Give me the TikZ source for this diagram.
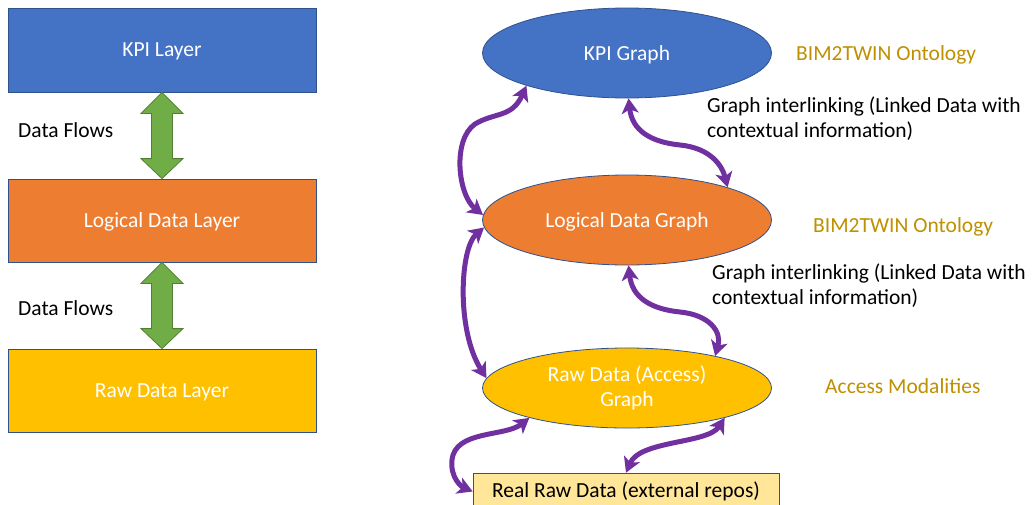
\documentclass[tikz,border=0pt]{standalone}
\usepackage{fontspec}
\setmainfont{Carlito}
\usetikzlibrary{arrows.meta,calc,shapes.geometric}
\definecolor{cblue}{HTML}{4472C4}
\definecolor{corange}{HTML}{ED7D31}
\definecolor{cyellow}{HTML}{FFC000}
\definecolor{cgreen}{HTML}{70AD47}
\definecolor{cgreenb}{HTML}{507E32}
\definecolor{cpurple}{HTML}{7030A0}
\definecolor{cgold}{HTML}{BF9000}
\definecolor{clight}{HTML}{FFE699}
\definecolor{cborder}{HTML}{2F528F}
\begin{document}
\begin{tikzpicture}[x=1pt,y=-1pt,
  every node/.style={font=\fontsize{21.5}{25}\selectfont},
  layerbox/.style={draw=cborder,line width=0.8pt,minimum width=308pt,minimum height=84pt,inner sep=0pt,text=white,text depth=0pt},
  graphell/.style={ellipse,draw=cborder,line width=0.8pt,minimum width=289pt,inner sep=0pt,text=white,align=center},
  garrow/.style={fill=cgreen,draw=cgreenb,line width=0.8pt,line join=miter},
  parrow/.style={draw=cpurple,line width=5pt,{Stealth[length=15pt,width=17pt,inset=4pt]}-{Stealth[length=15pt,width=17pt,inset=4pt]}},
  plain/.style={inner sep=0pt,anchor=west,align=left},
  ontol/.style={inner sep=0pt,anchor=west,text=cgold}]
\useasboundingbox (0,0) rectangle (1034,504);
\fill[white] (0,0) rectangle (1034,504);
% left layers
\node[layerbox,fill=cblue] (kpil) at (162,50) {KPI Layer};
\node[layerbox,fill=corange,minimum height=83pt] (logl) at (162,220.5) {Logical Data Layer};
\node[layerbox,fill=cyellow,minimum height=83pt] (rawl) at (162,390.5) {Raw Data Layer};
\foreach \a/\b in {kpil/logl,logl/rawl}{
  \draw[garrow] (\a.south) -- ($(\a.south)+(21,21)$) -- ($(\a.south)+(10.5,21)$)
    -- ($(\b.north)+(10.5,-20)$) -- ($(\b.north)+(21,-20)$) -- (\b.north)
    -- ($(\b.north)+(-21,-20)$) -- ($(\b.north)+(-10.5,-20)$)
    -- ($(\a.south)+(-10.5,21)$) -- ($(\a.south)+(-21,21)$) -- cycle;
}
\node[plain] (df1) at (18,130) {Data Flows};
\node[plain] (df2) at (18,308) {Data Flows};
% right graphs
\node[graphell,fill=cblue,minimum height=90pt,text depth=0pt] (kpi) at (627,53) {KPI Graph};
\node[graphell,fill=corange,minimum height=90pt,text depth=0pt] (logic) at (627,220) {Logical Data Graph};
\node[graphell,fill=cyellow,minimum height=80pt] (raw) at (627,388) {Raw Data (Access)\\Graph};
\node[draw=cborder,line width=0.6pt,fill=clight,minimum width=306pt,minimum height=37pt,inner sep=0pt] (box) at (626,491.5) {Real Raw Data (external repos)};
% labels
\node[ontol] (o1) at (796,55) {BIM2TWIN Ontology};
\node[ontol] (o2) at (813,227) {BIM2TWIN Ontology};
\node[ontol] (o3) at (825,386) {Access Modalities};
\node[plain] (g1) at (707,119) {Graph interlinking (Linked Data with\\contextual information)};
\node[plain] (g2) at (712,286) {Graph interlinking (Linked Data with\\contextual information)};
% purple connectors
\draw[parrow] (logic.178) .. controls (458,195) and (452,140) .. (475,124) .. controls (495,112) and (512,118) .. (kpi.198);
\draw[parrow] (kpi.-88) .. controls (632,130) and (650,142) .. (680,145) .. controls (710,148) and (722,165) .. (logic.18);
\draw[parrow] (logic.183) .. controls (460,248) and (456,330) .. (raw.176);
\draw[parrow] (logic.-88) .. controls (632,297) and (650,309) .. (680,312) .. controls (710,315) and (722,332) .. (raw.20);
\draw[parrow] (raw.197) .. controls (505,437) and (455,430) .. (452,460) .. controls (450,478) and (462,487) .. (box.west);
\draw[parrow] (raw.-17) .. controls (708,444) and (640,440) .. (box.north);
\end{tikzpicture}
\end{document}
